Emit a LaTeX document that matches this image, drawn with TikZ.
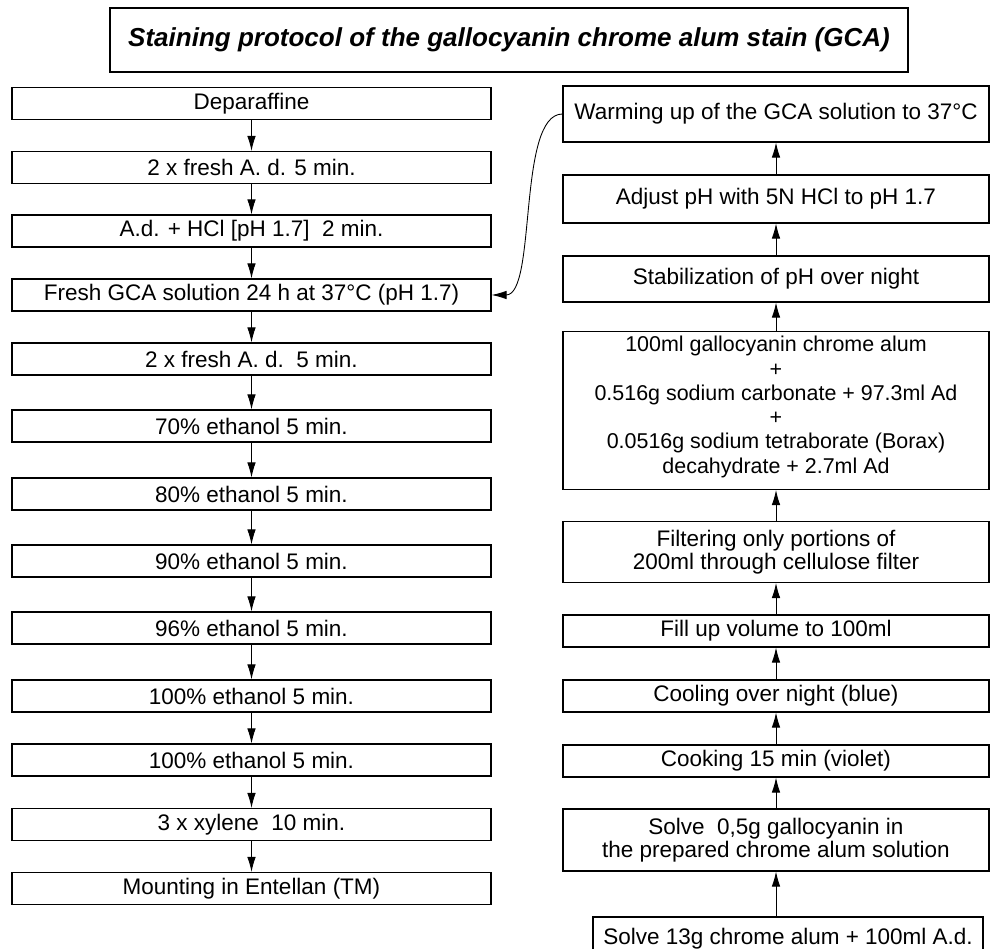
\documentclass[tikz,border=0pt]{standalone}
\usepackage{fontspec}
\setmainfont{Liberation Sans}
\usetikzlibrary{arrows.meta}

\begin{document}
\begin{tikzpicture}[
  lbox/.style={draw, line width=0.6pt, minimum width=9.58cm, minimum height=0.64cm,
               inner sep=0pt, align=center, font=\fontsize{12.8}{11.4}\selectfont},
  rbox/.style={draw, line width=0.6pt, minimum width=8.52cm, inner sep=0pt,
               align=center, font=\fontsize{12.8}{11.4}\selectfont},
  titlebox/.style={draw, line width=1.2pt, minimum width=15.96cm, minimum height=1.28cm,
                   font=\fontsize{14.8}{16}\selectfont\bfseries\itshape},
  flow/.style={-{Latex[length=3mm, width=1.7mm]}, line width=0.5pt},
]
\useasboundingbox (0,0) rectangle (19.8,18.96);

% Title
\node[titlebox] (title) at (10.18,18.16)
  {Staining protocol of the gallocyanin chrome alum stain (GCA)};

% Staining steps (left column)
\node[lbox] (dep)   at (5.03,16.89) {Deparaffine};
\node[lbox] (ad1)   at (5.03,15.61) {2 x fresh A. d. 5 min.};
\node[lbox] (hcl)   at (5.03,14.34) {A.d. + HCl [pH 1.7]\ \ 2 min.};
\node[lbox] (fresh) at (5.03,13.06) {Fresh GCA solution 24 h at 37°C (pH 1.7)};
\node[lbox] (ad2)   at (5.03,11.78) {2 x fresh A. d.\ \ 5 min.};
\node[lbox] (eth70) at (5.03,10.44) {70\% ethanol 5 min.};
\node[lbox] (eth80) at (5.03,9.08)  {80\% ethanol 5 min.};
\node[lbox] (eth90) at (5.03,7.74)  {90\% ethanol 5 min.};
\node[lbox] (eth96) at (5.03,6.40)  {96\% ethanol 5 min.};
\node[lbox] (etha)  at (5.03,5.04)  {100\% ethanol 5 min.};
\node[lbox] (ethb)  at (5.03,3.76)  {100\% ethanol 5 min.};
\node[lbox] (xyl)   at (5.03,2.47)  {3 x xylene\ \ 10 min.};
\node[lbox] (mount) at (5.03,1.19)  {Mounting in Entellan (TM)};

\foreach \a/\b in {dep/ad1, ad1/hcl, hcl/fresh, fresh/ad2, ad2/eth70,
                   eth70/eth80, eth80/eth90, eth90/eth96, eth96/etha,
                   etha/ethb, ethb/xyl, xyl/mount}
  \draw[flow] (\a) -- (\b);

% Preparation of the GCA solution (right column, bottom to top)
\node[rbox, minimum height=1.12cm] (warm)  at (15.52,16.68) {Warming up of the GCA solution to 37°C};
\node[rbox, minimum height=0.96cm] (adj)   at (15.52,14.98) {Adjust pH with 5N HCl to pH 1.7};
\node[rbox, minimum height=0.92cm] (stab)  at (15.52,13.38) {Stabilization of pH over night};
\node[rbox, minimum height=3.16cm] (mix)   at (15.52,10.75) {};
\node[anchor=north, align=center, inner sep=0pt, font=\fontsize{12.2}{13.8}\selectfont] (mixtxt)
  at ([yshift=-0.1cm]mix.north)
  {100ml gallocyanin chrome alum\\+\\0.516g sodium carbonate + 97.3ml Ad\\+\\
   0.0516g sodium tetraborate (Borax)\\decahydrate + 2.7ml Ad};
\node[rbox, minimum height=1.22cm] (filt)  at (15.52,7.92)
  {Filtering only portions of\\200ml through cellulose filter};
\node[rbox, minimum height=0.64cm] (fill)  at (15.52,6.34) {Fill up volume to 100ml};
\node[rbox, minimum height=0.64cm] (cool)  at (15.52,5.04) {Cooling over night (blue)};
\node[rbox, minimum height=0.64cm] (cook)  at (15.52,3.74) {Cooking 15 min (violet)};
\node[rbox, minimum height=1.24cm] (solve) at (15.52,2.16)
  {Solve\ \ 0,5g gallocyanin in\\the prepared chrome alum solution};
\node[rbox, minimum width=7.8cm, minimum height=0.86cm] (alum) at (15.76,0.19)
  {Solve 13g chrome alum + 100ml A.d.};

\draw[flow] (solve.south |- alum.north) -- (solve.south);
\foreach \a/\b in {solve/cook, cook/cool, cool/fill, fill/filt, filt/mix,
                   mix/stab, stab/adj, adj/warm}
  \draw[flow] (\a) -- (\b);

% Warmed solution goes to the staining step
\draw[flow] (warm.west) to[out=180, in=0, looseness=0.6] (fresh.east);

\end{tikzpicture}
\end{document}
